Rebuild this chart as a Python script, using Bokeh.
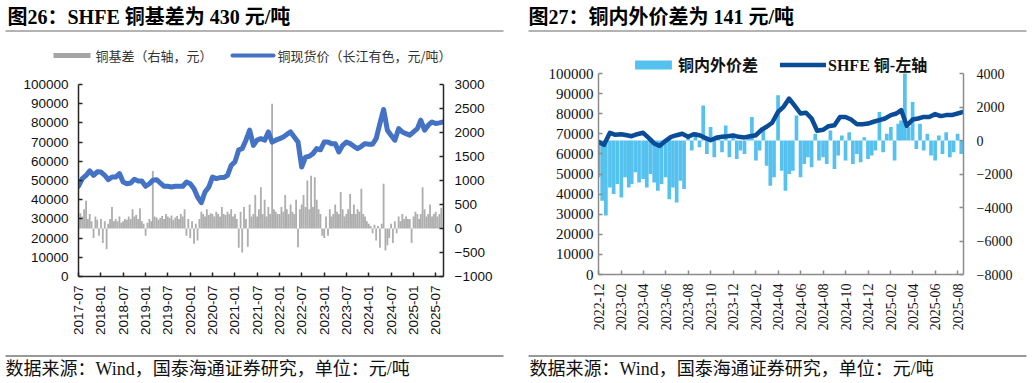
from datetime import datetime
import pandas as pd
from bokeh.plotting import figure
from bokeh.models import (Range1d, LinearAxis, FixedTicker, BasicTickFormatter,
                          DatetimeTickFormatter, ColumnDataSource, Legend, LegendItem)
from bokeh.layouts import column, row
from bokeh.core.properties import value
from bokeh.embed import file_html
from bokeh.resources import INLINE

# ---------------- texts ----------------
title_left = "图26：SHFE 铜基差为 430 元/吨"
title_right = "图27：铜内外价差为 141 元/吨"
footer_text = "数据来源：Wind，国泰海通证券研究，单位：元/吨"
left_legend_labels = ["铜基差（右轴，元）", "铜现货价（长江有色，元/吨）"]
right_legend_labels = ["铜内外价差", "SHFE 铜-左轴"]

# ---------------- data: left chart (图26) ----------------
# copper spot price (Changjiang), monthly, 2017-07 .. 2025-09 (left axis)
price_2017 = [47000, 51000, 52700, 55000, 52700, 54500]
price_2018 = [54400, 52700, 50400, 51800, 51800, 53600, 49200, 48300, 48700, 50600, 49700, 49700]
price_2019 = [47000, 48300, 50100, 50400, 48700, 47000, 47000, 46600, 47000, 47000, 47000, 49200]
price_2020 = [48300, 45700, 41400, 38500, 44000, 46600, 51800, 51000, 51500, 51500, 52700, 57900]
price_2021 = [59700, 66000, 66600, 71000, 76200, 68300, 71000, 71800, 71000, 75300, 70000, 71000]
price_2022 = [71800, 72700, 74000, 75300, 72700, 70000, 57000, 62200, 62600, 64000, 66600, 66000]
price_2023 = [70000, 70000, 69200, 69200, 64900, 68300, 70000, 69200, 67800, 66600, 67800, 69200]
price_2024 = [68900, 68900, 71800, 79700, 87000, 76200, 73600, 71000, 77000, 75300, 74400, 73600]
price_2025 = [75300, 77000, 81400, 76200, 78800, 80500, 79700, 80000, 80500]

# copper basis, twice a month (1st, 16th), 2017-07 .. 2025-08 (right axis)
basis_2017 = [150, 320, 250, 400, 580, 200, 300, 150, -200, 250, 180, -150]
basis_2018 = [200, -300, 150, -430, 100, 200, 450, 150, 200, 150, 250, 120,
              150, 200, 180, 250, 200, 400, 250, 280, 200, 420, 150, 100]
basis_2019 = [-150, 120, 200, 150, 1200, 250, 230, 180, 220, 260, 200, 300,
              250, 220, 270, 180, 230, 260, 200, 300, 250, 400, -150, 200]
basis_2020 = [-200, 150, -320, 100, -250, 200, 350, 300, 250, 400, 280, 320,
              300, 250, 350, 300, 250, 450, 300, 280, 350, 300, 400, 250]
basis_2021 = [300, 200, -400, 350, -500, 450, 200, -380, 500, 250, 300, 700,
              250, 400, 860, 300, 600, 250, 450, 300, 2600, 400, 350, 300]
basis_2022 = [300, 450, 350, 700, 400, 300, 500, 350, 300, 600, -390, 400,
              500, 700, 450, 1000, 400, 1100, 450, 1070, 600, 400, 300, -150]
basis_2023 = [-200, 250, -150, 400, 250, 300, 500, 350, 300, 760, 400, 250,
              300, 400, 720, 300, 500, 300, 400, 350, 830, 300, 250, 150]
basis_2024 = [100, 50, -100, 80, -250, 50, -400, 100, 930, -460, -350, -200,
              100, -300, 150, -100, 250, 150, 300, 200, 250, 200, 200, -300]
basis_2025 = [250, 350, 300, 200, 300, 860, 400, 250, 300, 500, 250, 300, 350, 250, 300, 430]

left_ticks = ["2017-07", "2018-01", "2018-07", "2019-01", "2019-07", "2020-01", "2020-07",
              "2021-01", "2021-07", "2022-01", "2022-07", "2023-01", "2023-07", "2024-01",
              "2024-07", "2025-01", "2025-07"]
left_y_ticks = [0, 10000, 20000, 30000, 40000, 50000, 60000, 70000, 80000, 90000, 100000]
left_r_ticks = [-1000, -500, 0, 500, 1000, 1500, 2000, 2500, 3000]

# ---------------- data: right chart (图27) ----------------
# SHFE copper, twice a month, 2022-12 .. 2025-08 (left axis)
shfe_2022 = [66000, 64500]
shfe_2023 = [70500, 69500, 69800, 69300, 68800, 69800, 70500, 68000, 65200, 64000, 66500, 68500,
             69300, 70000, 68500, 69800, 69300, 68000, 66800, 68000, 68500, 68800, 69200, 68500]
shfe_2024 = [68200, 68800, 69300, 72000, 73500, 75500, 80900, 83400, 87500, 84000, 80100, 80500,
             77600, 71500, 72000, 73800, 74300, 78400, 78400, 77100, 74800, 74800, 75100, 76000]
shfe_2025 = [76800, 77600, 79300, 80100, 81800, 74000, 77100, 77600, 78400, 78400, 79800, 78800,
             79300, 79300, 80100, 80900]

# domestic-foreign spread, three times a month (1st, 11th, 21st), 2022-12 .. 2025-08 (right axis)
spread_2022 = [-2200, -3600, -4480]
spread_2023 = [-2800, -3200, -2600, -3400, -2200, -2800, -2600, -1900, -2500, -2300, -2800, -2000,
               -2500, -3000, -2600, -2200, -3500, -2800, -3700, -2400, -2900, 300, -600, 500,
               -400, 2090, -800, 800, -1000, 300, -700, 900, -1000, 400, -1100, -600]
spread_2024 = [-800, 300, 1400, -1200, -600, 700, -1500, -2700, -2200, 2700, -1800, -3000,
               -2000, -1800, 1500, -2200, -1400, -1000, -1600, 400, -1200, -1000, -1400, 600,
               -1700, -900, 300, -1200, 500, -1400, -800, -1300, 200, -1100, -900, -600]
spread_2025 = [1700, -700, 400, 800, -1200, 1000, 1200, 4000, 800, 2300, -500, 1000,
               -600, 400, -900, -1200, 300, -800, 500, -1000, -700, 400, -800, 141]

right_ticks = ["2022-12", "2023-02", "2023-04", "2023-06", "2023-08", "2023-10", "2023-12",
               "2024-02", "2024-04", "2024-06", "2024-08", "2024-10", "2024-12", "2025-02",
               "2025-04", "2025-06", "2025-08"]
right_y_ticks = [0, 10000, 20000, 30000, 40000, 50000, 60000, 70000, 80000, 90000, 100000]
right_r_ticks = [-8000, -6000, -4000, -2000, 0, 2000, 4000]

# ---------------- build sources ----------------
price = price_2017 + price_2018 + price_2019 + price_2020 + price_2021 + price_2022 + price_2023 + price_2024 + price_2025
price_dates = list(pd.date_range("2017-07-01", periods=len(price), freq="MS"))

basis = basis_2017 + basis_2018 + basis_2019 + basis_2020 + basis_2021 + basis_2022 + basis_2023 + basis_2024 + basis_2025
basis_dates = []
for m in pd.date_range("2017-07-01", "2025-08-01", freq="MS"):
    basis_dates += [m, m + pd.Timedelta(days=15)]

months_s = pd.date_range("2022-12-01", "2025-08-01", freq="MS")
shfe = shfe_2022 + shfe_2023 + shfe_2024 + shfe_2025
shfe_dates = []
for m in months_s:
    shfe_dates += [m, m + pd.Timedelta(days=15)]

spread = spread_2022 + spread_2023 + spread_2024 + spread_2025
spread_dates = []
for m in months_s:
    spread_dates += [m, m + pd.Timedelta(days=10), m + pd.Timedelta(days=20)]

DAY = 86400000
CJK_SERIF = "Liberation Serif, Noto Sans CJK SC"
CJK_SANS = "Noto Sans CJK SC"


def no_align(f):
    try:
        f.frame_align = False
    except Exception:
        pass
    return f


def tick_ms(labels):
    return [pd.Timestamp(t + "-01").value // 10**6 for t in labels]


def style_axes(p, color, width, font, size, standoffs):
    for ax in p.axis:
        ax.axis_line_color = color
        ax.axis_line_width = width
        ax.major_tick_line_color = color
        ax.major_tick_line_width = width
        ax.major_tick_in = 4
        ax.major_tick_out = 0
        ax.minor_tick_line_color = None
        ax.major_label_text_font = font
        ax.major_label_text_font_size = size
        ax.major_label_text_color = "#111111"
    p.xaxis.major_label_standoff = standoffs[0]
    p.yaxis[0].major_label_standoff = standoffs[1]
    p.yaxis[1].major_label_standoff = standoffs[2]


def blank(width, height, xr, yr):
    f = figure(width=width, height=height, x_range=Range1d(*xr), y_range=Range1d(*yr),
               output_backend="svg", toolbar_location=None, min_border=0,
               x_axis_location=None, y_axis_location=None)
    f.grid.visible = False
    f.outline_line_color = None
    return no_align(f)


fmt_dt = DatetimeTickFormatter(days="%Y-%m", months="%Y-%m", years="%Y-%m")

# ---------------- left chart ----------------
p1 = figure(width=520, height=284, x_axis_type="datetime",
            x_range=Range1d(datetime(2017, 7, 1), datetime(2025, 9, 3)),
            y_range=Range1d(0, 100000),
            output_backend="svg", toolbar_location=None,
            min_border_left=78, min_border_right=77, min_border_top=20, min_border_bottom=72)
no_align(p1)
p1.extra_y_ranges = {"r": Range1d(-1000, 3000)}
p1.add_layout(LinearAxis(y_range_name="r"), "right")
p1.grid.visible = False
p1.outline_line_color = None
p1.xaxis.ticker = FixedTicker(ticks=tick_ms(left_ticks))
p1.xaxis.formatter = fmt_dt
p1.xaxis.major_label_orientation = 1.5708
p1.yaxis[0].ticker = FixedTicker(ticks=left_y_ticks)
p1.yaxis[1].ticker = FixedTicker(ticks=left_r_ticks)
for ax in p1.yaxis:
    ax.formatter = BasicTickFormatter(use_scientific=False)
style_axes(p1, "#262626", 1.5, "Liberation Sans", "13.5px", (9, 10, 11))

src_b = ColumnDataSource(dict(x=basis_dates, top=basis))
bars1 = p1.vbar(x="x", top="top", bottom=0, width=15 * DAY, source=src_b,
                y_range_name="r", fill_color="#A5A5A5", fill_alpha=0.9, line_color=None)
src_p = ColumnDataSource(dict(x=price_dates, y=price))
line1 = p1.line(x="x", y="y", source=src_p, line_color="#4472C4", line_width=5,
                line_join="round", line_cap="round")

# header for the left panel: title, rule and legend (pixel coordinates, y down)
hl = blank(520, 64, (0, 520), (64, 0))
hl.text(x=[7], y=[16.5], text=[title_left], text_font=value(CJK_SERIF),
        text_font_size="20px", text_font_style="bold", text_baseline="middle", text_color="#000000")
hl.segment(x0=[5], y0=[30.5], x1=[503], y1=[30.5], line_color="#9A9A9A", line_width=1.5)
hl.quad(left=[53], right=[90], top=[52.5], bottom=[57.5], fill_color="#A5A5A5", line_color=None)
hl.segment(x0=[232], y0=[55], x1=[273], y1=[55], line_color="#4472C4", line_width=4, line_cap="round")
hl.text(x=[95, 277], y=[55, 55], text=left_legend_labels, text_font=value(CJK_SANS),
        text_font_size="13px", text_baseline="middle", text_color="#333333")

fl = blank(520, 34, (0, 520), (382, 348))
fl.segment(x0=[5], y0=[355.5], x1=[503], y1=[355.5], line_color="#333333", line_width=1)
fl.text(x=[5], y=[368], text=[footer_text], text_font=value(CJK_SERIF),
        text_font_size="18px", text_baseline="middle", text_color="#111111")

# ---------------- right chart ----------------
# frame spans page y 44..274 so the legend fits inside; the 0..100000 scale spans y 73..274
top_extra = (274 - 44) / (274 - 73)
p2 = figure(width=512, height=308, x_axis_type="datetime",
            x_range=Range1d(datetime(2022, 12, 1), datetime(2025, 8, 17)),
            y_range=Range1d(0, 100000 * top_extra),
            output_backend="svg", toolbar_location=None,
            min_border_left=78, min_border_right=69, min_border_top=4, min_border_bottom=74)
no_align(p2)
p2.extra_y_ranges = {"r": Range1d(-8000, -8000 + 12000 * top_extra)}
p2.add_layout(LinearAxis(y_range_name="r"), "right")
p2.grid.visible = False
p2.outline_line_color = None
p2.xaxis.ticker = FixedTicker(ticks=tick_ms(right_ticks))
p2.xaxis.formatter = fmt_dt
p2.xaxis.major_label_orientation = 1.5708
p2.yaxis[0].ticker = FixedTicker(ticks=right_y_ticks)
p2.yaxis[1].ticker = FixedTicker(ticks=right_r_ticks)
p2.yaxis[0].bounds = (0, 100000)
p2.yaxis[1].bounds = (-8000, 4000)
for ax in p2.yaxis:
    ax.formatter = BasicTickFormatter(use_scientific=False)
style_axes(p2, "#8C8C8C", 1.5, "Liberation Serif", "14px", (9, 5, 13))
p2.yaxis[0].major_label_text_font_size = "15px"

src_s = ColumnDataSource(dict(x=spread_dates, top=spread))
bars2 = p2.vbar(x="x", top="top", bottom=0, width=10 * DAY, source=src_s,
                y_range_name="r", fill_color="#55C1EF", line_color=None)
src_f = ColumnDataSource(dict(x=shfe_dates, y=shfe))
line2 = p2.line(x="x", y="y", source=src_f, line_color="#0A4C97", line_width=4.5,
                line_join="round", line_cap="round")

leg2 = Legend(items=[LegendItem(label=right_legend_labels[0], renderers=[bars2]),
                     LegendItem(label=right_legend_labels[1], renderers=[line2])],
              orientation="horizontal", location=(32, 198),
              glyph_width=46, glyph_height=11, label_standoff=2, spacing=22,
              padding=0, margin=0, border_line_color=None, background_fill_alpha=0,
              label_text_font=CJK_SERIF, label_text_font_size="16px",
              label_text_font_style="bold", label_text_color="#111111", label_height=16)
p2.add_layout(leg2)

hr = blank(512, 40, (520, 1032), (40, 0))
hr.text(x=[528], y=[16.5], text=[title_right], text_font=value(CJK_SERIF),
        text_font_size="20px", text_font_style="bold", text_baseline="middle", text_color="#000000")
hr.segment(x0=[528], y0=[30.5], x1=[1026], y1=[30.5], line_color="#9A9A9A", line_width=1.5)

fr = blank(512, 34, (520, 1032), (382, 348))
fr.segment(x0=[528], y0=[355.5], x1=[1026], y1=[355.5], line_color="#333333", line_width=1)
fr.text(x=[529], y=[368], text=[footer_text], text_font=value(CJK_SERIF),
        text_font_size="18px", text_baseline="middle", text_color="#111111")

layout = row(column(hl, p1, fl), column(hr, p2, fr))
open("out.html", "w").write(file_html(layout, INLINE))
